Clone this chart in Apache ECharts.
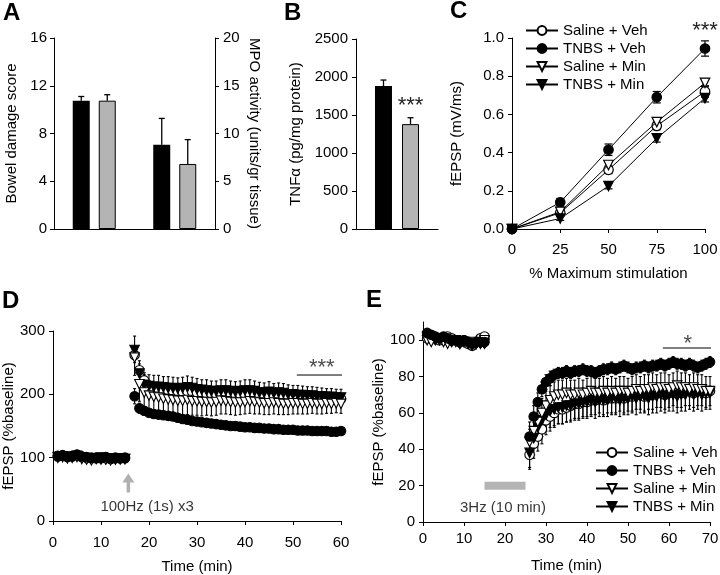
<!DOCTYPE html>
<html><head><meta charset="utf-8">
<script src="https://cdn.jsdelivr.net/npm/echarts@6/dist/echarts.min.js"></script>
<style>html,body{margin:0;padding:0;background:#fff}#c{width:720px;height:575px}</style>
</head><body><div id="c"></div>
<script>
// ---------- DATA ----------
// Panel A
const aCats = ['Bowel damage score', 'MPO activity'];
const aBlack = [10.75, 8.83];
const aBlackErr = [0.35, 2.75];
const aGray = [10.75, 6.81];
const aGrayErr = [0.5, 2.55];
// Panel B
const bCats = ['TNFa'];
const bBlack = [1880];
const bBlackErr = [80];
const bGray = [1380];
const bGrayErr = [84];
// Panel C
const cX = [0, 25, 50, 75, 100];
const cSalVeh = [0, 0.085, 0.31, 0.54, 0.72];
const cSalVehErr = [0.005, 0.012, 0.02, 0.02, 0.03];
const cTnbsVeh = [0, 0.14, 0.415, 0.69, 0.945];
const cTnbsVehErr = [0.005, 0.02, 0.03, 0.03, 0.04];
const cSalMin = [0, 0.09, 0.335, 0.56, 0.765];
const cSalMinErr = [0.005, 0.012, 0.02, 0.02, 0.02];
const cTnbsMin = [0, 0.055, 0.225, 0.475, 0.685];
const cTnbsMinErr = [0.005, 0.01, 0.015, 0.02, 0.02];
const legendNames = ['Saline + Veh', 'TNBS + Veh', 'Saline + Min', 'TNBS + Min'];
// Panel D
const dTime = [1,2,3,4,5,6,7,8,9,10,11,12,13,14,15,17,18,19,20,21,22,23,24,25,26,27,28,29,30,31,32,33,34,35,36,37,38,39,40,41,42,43,44,45,46,47,48,49,50,51,52,53,54,55,56,57,58,59,60];
const dTnbsVeh = [103,104,102,103,105,102,101,100,99,100,101,99,100,99,100,
  197,178,174,171,169,168,167,166,165,163,161,160,158,157,156,155,154,153,152,151,
  150,150,149,148,148,147,147,146,146,145,145,144,144,144,143,143,143,142,142,142,142,141,141,142];
const dTnbsVehErr = [3,3,2,3,3,2,3,2,2,3,2,2,3,2,2,
  12,8,6,5,5,5,4,4,4,4,4,4,4,4,4,4,4,3,3,3,3,3,3,3,3,3,3,3,3,3,3,3,3,3,3,3,3,3,3,3,3,3,3,3];
const dTnbsMin = [101,102,100,101,103,100,99,98,99,100,98,99,98,99,98,
  270,233,215,213,212,212,211,210,210,209,210,211,210,208,207,206,205,205,206,206,
  205,204,205,206,206,205,203,203,204,202,203,202,200,200,199,199,198,198,197,197,196,196,195,195];
const dTnbsMinErr = [4,4,3,4,4,3,4,3,4,3,3,4,3,3,3,
  22,20,19,18,18,18,17,18,17,17,17,18,17,17,16,17,16,16,17,17,16,16,16,17,17,16,16,15,16,15,15,15,15,14,15,14,14,14,14,13,13,13,13,13];
const dSalVeh = [102,103,101,102,104,101,100,99,100,99,100,98,99,99,99,
  262,238,222,214,210,208,207,206,205,205,204,205,204,203,202,201,201,200,201,202,
  201,200,200,200,201,200,199,198,198,199,198,197,197,197,196,196,195,195,195,194,194,194,193,193];
const dSalVehErr = [3,3,3,3,3,3,3,3,3,3,3,3,3,3,3,
  12,10,9,8,8,8,8,8,8,8,8,8,8,8,8,8,8,8,8,8,8,8,8,8,8,8,8,8,8,8,8,8,8,8,8,8,8,8,8,8,8,8,8,8];
const dSalMin = [100,101,99,100,101,98,97,96,98,97,97,96,97,97,98,
  258,216,203,198,196,195,193,192,191,190,190,191,189,189,188,188,187,188,190,189,
  188,187,187,188,189,188,187,186,186,187,186,185,185,186,186,185,185,186,185,185,186,185,186,185];
const dSalMinErr = [4,4,4,5,4,4,5,4,4,4,5,4,4,4,4,
  28,27,28,27,26,26,25,25,24,24,23,23,22,22,22,21,21,21,21,20,20,20,19,19,19,19,18,18,18,18,18,17,17,17,17,16,16,16,16,16,16,15,15,15];
// Panel E
const eTime = [1,2,3,4,5,6,7,8,9,10,11,12,13,14,15,26,27,28,29,30,31,32,33,34,35,36,37,38,39,40,41,42,43,44,45,46,47,48,49,50,51,52,53,54,55,56,57,58,59,60,61,62,63,64,65,66,67,68,69,70];
const eTnbsVeh = [104,103,102,101,102,101,100,100,99,100,99,98,99,99,99,
  47,58,66,73,77,79,81,82,82,83,82,83,83,84,83,83,82,83,84,84,85,84,85,86,85,84,85,85,86,85,86,86,87,86,87,88,87,87,86,87,86,85,86,87,88];
const eTnbsVehErr = [2,2,2,2,2,2,2,2,2,2,2,2,2,2,2,
  8,6,5,4,4,4,3,3,3,3,3,3,3,3,3,3,3,3,3,3,3,3,3,3,3,3,3,3,3,3,3,3,3,3,3,3,3,3,3,3,3,3,3,3,3];
const eSalVeh = [101,102,101,100,101,102,101,100,99,100,98,97,99,101,102,
  37,43,47,51,56,58,60,62,62,63,64,65,65,66,66,67,67,68,67,68,68,68,69,68,69,69,70,70,69,70,70,71,71,70,71,72,71,71,72,72,71,72,72,71,72];
const eSalVehErr = [2,2,2,2,2,2,2,2,2,2,2,2,2,2,2,
  8,8,8,8,8,8,8,8,8,8,8,8,8,8,8,8,8,8,8,8,8,8,8,8,8,8,8,8,8,8,8,8,8,8,8,8,8,8,8,8,8,8,8,8,8];
const eSalMin = [100,99,101,100,99,98,100,99,98,99,98,99,98,99,100,
  44,50,55,60,64,67,69,70,70,71,70,70,71,70,71,72,71,71,72,71,72,71,72,72,71,72,73,72,73,73,74,73,74,74,73,74,75,74,74,73,74,73,73,72,72];
const eSalMinErr = [2,2,2,2,2,2,2,2,2,2,2,2,2,2,2,
  7,7,7,8,8,8,8,8,8,8,8,8,8,8,8,8,8,8,8,8,8,8,8,8,8,8,8,8,8,8,8,8,8,8,8,8,8,8,8,8,8,8,8,8,8];
const eTnbsMin = [102,101,100,101,100,99,99,100,98,99,98,97,98,98,98,
  38,46,52,56,59,61,62,63,63,64,64,65,65,66,66,67,66,67,67,67,68,68,67,68,68,69,68,69,69,68,69,69,70,69,70,70,69,70,70,71,70,71,70,71,71];
const eTnbsMinErr = [2,2,2,2,2,2,2,2,2,2,2,2,2,2,2,
  8,9,9,9,9,9,9,9,9,9,9,9,9,9,9,9,9,9,9,9,9,9,9,9,9,9,9,9,9,9,9,9,9,9,9,9,9,9,9,9,9,9,9,9,9];

// ---------- CHART ----------
const FONT = 'Liberation Sans, Arial, sans-serif';
const chart = echarts.init(document.getElementById('c'), null, {renderer: 'canvas'});

function axisBase(extra) {
  return Object.assign({
    axisLine: {show: true, onZero: false, lineStyle: {color: '#000', width: 1}},
    axisTick: {show: true, length: 4, lineStyle: {color: '#000', width: 1}},
    axisLabel: {color: '#000', fontSize: 15, fontFamily: FONT},
    splitLine: {show: false},
    nameTextStyle: {color: '#000', fontSize: 15, fontFamily: FONT}
  }, extra);
}
function mergeLabel(ax, lab) { ax.axisLabel = Object.assign({}, ax.axisLabel, lab); return ax; }

const SYMS = {
  sv: {symbol: 'circle', rot: 0, fill: '#fff'},
  tv: {symbol: 'circle', rot: 0, fill: '#000'},
  sm: {symbol: 'triangle', rot: 180, fill: '#fff'},
  tm: {symbol: 'triangle', rot: 180, fill: '#000'}
};

function barErr(off, cap) {
  return function (params, api) {
    const c = api.coord([api.value(0), api.value(1)]);
    const t = api.coord([api.value(0), api.value(1) + api.value(2)]);
    const x = c[0] + off;
    return {type: 'group', children: [
      {type: 'line', shape: {x1: x, y1: c[1], x2: x, y2: t[1]}, style: {stroke: '#000', lineWidth: 1.3}},
      {type: 'line', shape: {x1: x - cap, y1: t[1], x2: x + cap, y2: t[1]}, style: {stroke: '#000', lineWidth: 1.3}}
    ]};
  };
}
function ptErr(mode, cap, lw) {
  return function (params, api) {
    const x = api.value(0), y = api.value(1), e = api.value(2);
    const lo = (mode === 'down' || mode === 'both') ? y - e : y;
    const hi = (mode === 'up' || mode === 'both') ? y + e : y;
    const pl = api.coord([x, lo]), ph = api.coord([x, hi]);
    const ch = [{type: 'line', shape: {x1: pl[0], y1: pl[1], x2: ph[0], y2: ph[1]}, style: {stroke: '#000', lineWidth: lw}}];
    if (mode !== 'up') ch.push({type: 'line', shape: {x1: pl[0] - cap, y1: pl[1], x2: pl[0] + cap, y2: pl[1]}, style: {stroke: '#000', lineWidth: lw}});
    if (mode !== 'down') ch.push({type: 'line', shape: {x1: ph[0] - cap, y1: ph[1], x2: ph[0] + cap, y2: ph[1]}, style: {stroke: '#000', lineWidth: lw}});
    return {type: 'group', children: ch};
  };
}
function zip3(t, v, e) { return t.map((x, i) => [x, v[i], e[i]]); }
function zip2(t, v) { return t.map((x, i) => [x, v[i]]); }

const grids = [
  {left: 54, right: 505, top: 38, bottom: 346},   // A
  {left: 356, right: 282, top: 39, bottom: 346},  // B
  {left: 512, right: 15, top: 38, bottom: 346},   // C
  {left: 53, right: 379, top: 331, bottom: 54},   // D
  {left: 423, right: 10, top: 322, bottom: 53}    // E
].map(g => Object.assign({outerBoundsMode: 'none', containLabel: false}, g));

const xAxes = [
  axisBase({type: 'category', gridIndex: 0, data: aCats, axisTick: {show: false}, axisLabel: {show: false}}),
  {type: 'category', gridIndex: 0, data: aCats, show: false},
  axisBase({type: 'category', gridIndex: 1, data: bCats, axisTick: {show: false}, axisLabel: {show: false}}),
  mergeLabel(axisBase({type: 'value', gridIndex: 2, min: 0, max: 100, interval: 25,
    name: '% Maximum stimulation', nameLocation: 'middle', nameGap: 37}), {margin: 13}),
  mergeLabel(axisBase({type: 'value', gridIndex: 3, min: 0, max: 60, interval: 10,
    name: 'Time (min)', nameLocation: 'middle', nameGap: 38}), {margin: 14}),
  mergeLabel(axisBase({type: 'value', gridIndex: 4, min: 0, max: 70, interval: 10,
    name: 'Time (min)', nameLocation: 'middle', nameGap: 36}), {margin: 9})
];
const yAxes = [
  mergeLabel(axisBase({type: 'value', gridIndex: 0, min: 0, max: 16, interval: 4,
    name: 'Bowel damage score', nameLocation: 'middle', nameGap: 35}), {margin: 7}),
  mergeLabel(axisBase({type: 'value', gridIndex: 0, position: 'right', min: 0, max: 20, interval: 5,
    name: 'MPO activity (units/gr tissue)', nameLocation: 'middle', nameGap: 32, nameRotate: -90}), {margin: 8}),
  mergeLabel(axisBase({type: 'value', gridIndex: 1, min: 0, max: 2500, interval: 500,
    name: 'TNFα (pg/mg protein)', nameLocation: 'middle', nameGap: 53}), {margin: 8, formatter: v => String(v)}),
  mergeLabel(axisBase({type: 'value', gridIndex: 2, min: 0, max: 1, interval: 0.2,
    name: 'fEPSP (mV/ms)', nameLocation: 'middle', nameGap: 48}), {margin: 8, formatter: v => v.toFixed(1)}),
  mergeLabel(axisBase({type: 'value', gridIndex: 3, min: 0, max: 300, interval: 100,
    name: 'fEPSP (%baseline)', nameLocation: 'middle', nameGap: 34}), {margin: 8}),
  axisBase({type: 'value', gridIndex: 4, min: 0, max: 110, interval: 20,
    name: 'fEPSP (%baseline)', nameLocation: 'middle', nameGap: 34,
    axisTick: {show: true, length: 4, lineStyle: {color: '#000'}, customValues: [0, 20, 40, 60, 80, 100]},
    axisLabel: {color: '#000', fontSize: 15, fontFamily: FONT, margin: 8, customValues: [0, 20, 40, 60, 80, 100]}})
];

const STAR = {color: '#222', fontSize: 22, fontFamily: FONT};
const series = [];
// ---- A ----
const BW = 17;
series.push({type: 'bar', name: 'A-black1', xAxisIndex: 0, yAxisIndex: 0, barWidth: BW, barGap: '53%',
  data: [aBlack[0], '-'], itemStyle: {color: '#000'}});
series.push({type: 'bar', name: 'A-gray1', xAxisIndex: 0, yAxisIndex: 0, barWidth: BW, barGap: '53%',
  data: [aGray[0], '-'], itemStyle: {color: '#b4b4b4', borderColor: '#000', borderWidth: 1}});
series.push({type: 'bar', name: 'A-black2', xAxisIndex: 1, yAxisIndex: 1, barWidth: BW, barGap: '53%',
  data: ['-', aBlack[1]], itemStyle: {color: '#000'}});
series.push({type: 'bar', name: 'A-gray2', xAxisIndex: 1, yAxisIndex: 1, barWidth: BW, barGap: '53%',
  data: ['-', aGray[1]], itemStyle: {color: '#b4b4b4', borderColor: '#000', borderWidth: 1}});
series.push({type: 'custom', name: 'A-e1', xAxisIndex: 0, yAxisIndex: 0, encode: {x: 0, y: 1}, z: 5,
  renderItem: barErr(-13, 3), data: [[0, aBlack[0], aBlackErr[0]]]});
series.push({type: 'custom', name: 'A-e2', xAxisIndex: 0, yAxisIndex: 0, encode: {x: 0, y: 1}, z: 5,
  renderItem: barErr(13, 3), data: [[0, aGray[0], aGrayErr[0]]]});
series.push({type: 'custom', name: 'A-e3', xAxisIndex: 1, yAxisIndex: 1, encode: {x: 0, y: 1}, z: 5,
  renderItem: barErr(-13, 3), data: [[1, aBlack[1], aBlackErr[1]]]});
series.push({type: 'custom', name: 'A-e4', xAxisIndex: 1, yAxisIndex: 1, encode: {x: 0, y: 1}, z: 5,
  renderItem: barErr(13, 3), data: [[1, aGray[1], aGrayErr[1]]]});
// ---- B ----
series.push({type: 'bar', name: 'B-black', xAxisIndex: 2, yAxisIndex: 2, barWidth: BW, barGap: '59%',
  data: bBlack, itemStyle: {color: '#000'}});
series.push({type: 'bar', name: 'B-gray', xAxisIndex: 2, yAxisIndex: 2, barWidth: BW, barGap: '59%',
  data: bGray, itemStyle: {color: '#b4b4b4', borderColor: '#000', borderWidth: 1},
  label: Object.assign({show: true, position: 'top', distance: 7, formatter: '***'}, STAR)});
series.push({type: 'custom', name: 'B-e1', xAxisIndex: 2, yAxisIndex: 2, encode: {x: 0, y: 1}, z: 5,
  renderItem: barErr(-13.5, 3), data: [[0, bBlack[0], bBlackErr[0]]]});
series.push({type: 'custom', name: 'B-e2', xAxisIndex: 2, yAxisIndex: 2, encode: {x: 0, y: 1}, z: 5,
  renderItem: barErr(13.5, 3), data: [[0, bGray[0], bGrayErr[0]]]});

// ---- C ----
const cSets = [
  ['Saline + Veh', cSalVeh, cSalVehErr, SYMS.sv, 3],
  ['TNBS + Veh', cTnbsVeh, cTnbsVehErr, SYMS.tv, 4],
  ['Saline + Min', cSalMin, cSalMinErr, SYMS.sm, 5],
  ['TNBS + Min', cTnbsMin, cTnbsMinErr, SYMS.tm, 6]
];
cSets.forEach(([nm, vals, errs, s, z]) => {
  series.push({type: 'custom', name: nm + ' err', xAxisIndex: 3, yAxisIndex: 3, encode: {x: 0, y: 1}, z: 2,
    renderItem: ptErr('both', 4, 1.2), data: zip3(cX, vals, errs)});
  const d = zip2(cX, vals);
  if (nm === 'TNBS + Veh') {
    d[4] = {value: d[4], label: Object.assign({show: true, position: 'top', distance: 1, formatter: '***'}, STAR)};
  }
  series.push({type: 'line', name: nm, xAxisIndex: 3, yAxisIndex: 3, data: d, z: z,
    symbol: s.symbol, symbolRotate: s.rot, symbolSize: 9.5, showAllSymbol: true, clip: false,
    lineStyle: {color: '#000', width: 1},
    itemStyle: {color: s.fill, borderColor: '#000', borderWidth: 1.2}});
});

// ---- D ----
const dSets = [
  ['D Saline + Veh', dSalVeh, dSalVehErr, SYMS.sv, 'both', 3],
  ['D TNBS + Min', dTnbsMin, dTnbsMinErr, SYMS.tm, 'up', 4],
  ['D Saline + Min', dSalMin, dSalMinErr, SYMS.sm, 'down', 5],
  ['D TNBS + Veh', dTnbsVeh, dTnbsVehErr, SYMS.tv, 'both', 6]
];
dSets.forEach(([nm, vals, errs, s, mode, z]) => {
  series.push({type: 'custom', name: nm + ' err', xAxisIndex: 4, yAxisIndex: 4, encode: {x: 0, y: 1}, z: 2,
    renderItem: ptErr(mode, 1.5, 1.1), data: zip3(dTime, vals, errs)});
  series.push({type: 'scatter', name: nm, xAxisIndex: 4, yAxisIndex: 4, data: zip2(dTime, vals), z: z,
    symbol: s.symbol, symbolRotate: s.rot, symbolSize: 9.5,
    itemStyle: {color: s.fill, borderColor: '#000', borderWidth: 1.1, opacity: 1}});
});
// D annotations
series.push({type: 'line', name: 'D arrow', xAxisIndex: 4, yAxisIndex: 4, z: 7, silent: true,
  data: [{value: [15.7, 45], symbol: 'none'}, {value: [15.7, 68], symbol: 'triangle', symbolSize: [12, 9]}],
  lineStyle: {color: '#b0b0b0', width: 3.5}, itemStyle: {color: '#b0b0b0'}});
series.push({type: 'line', name: 'D sig', xAxisIndex: 4, yAxisIndex: 4, z: 7, silent: true, symbol: 'none',
  data: [[50.8, 230.5], [60.8, 230.5]], clip: false, lineStyle: {color: '#000', width: 1}});
series.push({type: 'scatter', name: 'D text', xAxisIndex: 4, yAxisIndex: 4, z: 7, silent: true, clip: false,
  symbolSize: 1, itemStyle: {color: 'transparent'},
  data: [
    {value: [19.6, 22], label: {show: true, position: 'inside', formatter: '100Hz (1s) x3', color: '#000', fontSize: 15, fontFamily: FONT}},
    {value: [56, 241.5], label: Object.assign({show: true, position: 'inside', formatter: '***'}, STAR)}
  ]});

// ---- E ----
const eSets = [
  ['E Saline + Veh', eSalVeh, eSalVehErr, SYMS.sv, 'down', 3],
  ['E TNBS + Min', eTnbsMin, eTnbsMinErr, SYMS.tm, 'down', 4],
  ['E Saline + Min', eSalMin, eSalMinErr, SYMS.sm, 'up', 5],
  ['E TNBS + Veh', eTnbsVeh, eTnbsVehErr, SYMS.tv, 'both', 6]
];
eSets.forEach(([nm, vals, errs, s, mode, z]) => {
  series.push({type: 'custom', name: nm + ' err', xAxisIndex: 5, yAxisIndex: 5, encode: {x: 0, y: 1}, z: 2,
    renderItem: ptErr(mode, 1.5, 1.1), data: zip3(eTime, vals, errs)});
  series.push({type: 'scatter', name: nm, xAxisIndex: 5, yAxisIndex: 5, data: zip2(eTime, vals), z: z,
    symbol: s.symbol, symbolRotate: s.rot, symbolSize: 9.5,
    itemStyle: {color: s.fill, borderColor: '#000', borderWidth: 1.1, opacity: 1}});
});
series.push({type: 'line', name: 'E stim', xAxisIndex: 5, yAxisIndex: 5, z: 7, silent: true, symbol: 'none',
  data: [[15, 20], [25, 20]], lineStyle: {color: '#b4b4b4', width: 8, cap: 'butt'}});
series.push({type: 'line', name: 'E sig', xAxisIndex: 5, yAxisIndex: 5, z: 7, silent: true, symbol: 'none',
  data: [[58.5, 95.7], [70.4, 95.7]], clip: false, lineStyle: {color: '#000', width: 1}});
series.push({type: 'scatter', name: 'E text', xAxisIndex: 5, yAxisIndex: 5, z: 7, silent: true, clip: false,
  symbolSize: 1, itemStyle: {color: 'transparent'},
  data: [
    {value: [19.5, 7.7], label: {show: true, position: 'inside', formatter: '3Hz (10 min)', color: '#000', fontSize: 15, fontFamily: FONT}},
    {value: [64.6, 97.9], label: Object.assign({show: true, position: 'inside', formatter: '*'}, STAR)}
  ]});

const legendCommon = {
  orient: 'vertical', itemWidth: 32, itemHeight: 11, itemGap: 3, selectedMode: false,
  textStyle: {color: '#000', fontSize: 15, fontFamily: FONT},
  data: legendNames
};

const letter = (t, x, y) => ({type: 'text', left: x, top: y,
  style: {text: t, fill: '#000', font: 'bold 24px ' + FONT}});

chart.setOption({
  animation: false,
  backgroundColor: '#fff',
  textStyle: {fontFamily: FONT},
  grid: grids,
  xAxis: xAxes,
  yAxis: yAxes,
  legend: [
    Object.assign({left: 520, top: 18}, legendCommon),
    Object.assign({left: 590, top: 440}, legendCommon)
  ],
  graphic: [letter('A', 3, 1), letter('B', 284, 1), letter('C', 450, -1), letter('D', 2, 289), letter('E', 366, 288)],
  series: series
});
</script>
</body></html>
